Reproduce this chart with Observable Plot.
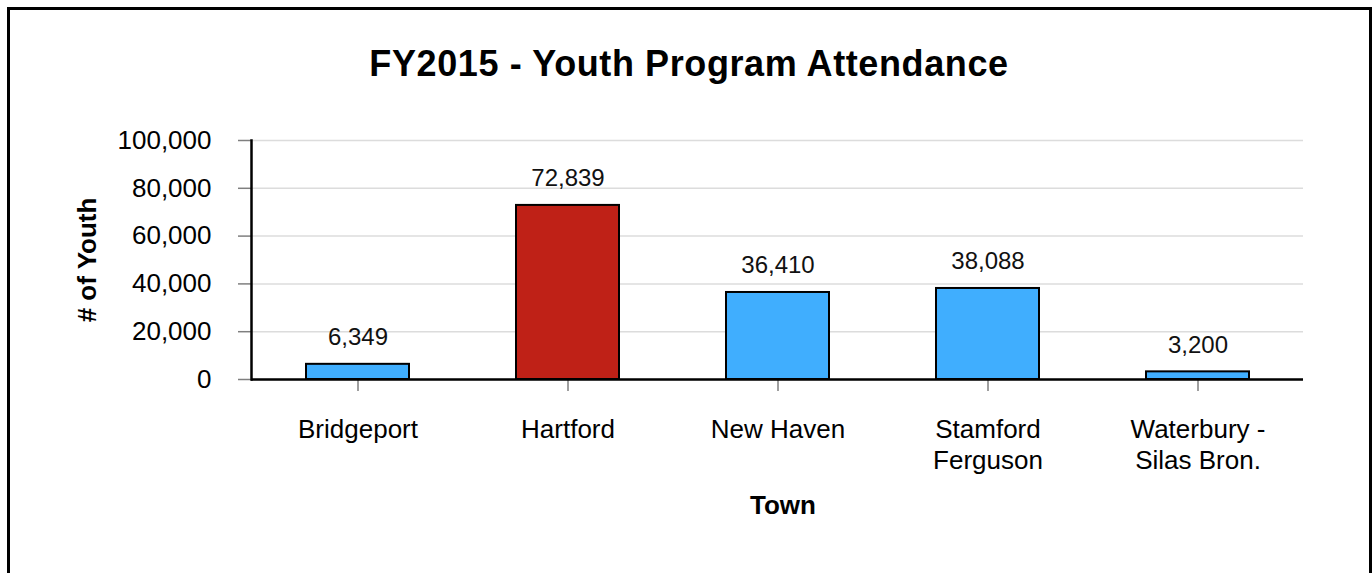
<!DOCTYPE html>
<html>
<head>
<meta charset="utf-8">
<script src="https://cdn.jsdelivr.net/npm/d3@7"></script>
<script src="https://cdn.jsdelivr.net/npm/@observablehq/plot@0.6"></script>
<style>
  html, body { margin: 0; padding: 0; background: #fff; }
  #wrap { position: relative; width: 1372px; height: 573px; overflow: hidden; font-family: "Liberation Sans", Arial, sans-serif; }
  #border { position: absolute; left: 7px; top: 7px; width: 1359px; height: 700px; border: 3px solid #000; pointer-events: none; }
  #title { position: absolute; left: 0; width: 1378px; top: 46px; height: 36px; line-height: 36px; text-align: center; font-size: 36px; font-weight: bold; letter-spacing: 0.6px; color: #000; }
  .alabel { position: absolute; font-size: 26px; font-weight: bold; color: #000; white-space: nowrap; line-height: 1; transform: translate(-50%, -50%); }
  #ylabel { left: 87px; top: 260px; transform: translate(-50%, -50%) rotate(-90deg); }
  #xlabel { left: 783px; top: 505px; }
  #chart { position: absolute; left: 0; top: 0; }
</style>
</head>
<body>
<div id="wrap">
  <div id="chart"></div>
  <div id="border"></div>
  <div id="title">FY2015 - Youth Program Attendance</div>
  <div id="ylabel" class="alabel"># of Youth</div>
  <div id="xlabel" class="alabel">Town</div>
</div>
<script>
const towns = ["Bridgeport", "Hartford", "New Haven", "Stamford\nFerguson", "Waterbury -\nSilas Bron."];
const youth = [6349, 72839, 36410, 38088, 3200];
const yTicks = [0, 20000, 40000, 60000, 80000, 100000];
const highlightTown = "Hartford";

const data = towns.map((t, i) => ({town: t, value: youth[i]}));
const fmt = d3.format(",");

const chart = Plot.plot({
  width: 1372,
  height: 573,
  marginTop: 140,
  marginBottom: 194,
  marginLeft: 251,
  marginRight: 69,
  style: {background: "transparent", fontFamily: "Liberation Sans, Arial, sans-serif", color: "#000"},
  x: {domain: towns, paddingInner: 0.51, paddingOuter: 0.255, label: null},
  y: {domain: [0, 100000], label: null},
  marks: [
    Plot.gridY(yTicks, {stroke: "#dcdcdc", strokeOpacity: 1, strokeWidth: 1.5}),
    Plot.axisY(yTicks, {tickSize: 13, tickPadding: 27, fontSize: 26, stroke: "#7f7f7f", strokeWidth: 1.5, tickFormat: fmt, label: null, fill: "#000"}),
    Plot.axisX({tickSize: 12, tickPadding: 24, fontSize: 26, stroke: "#7f7f7f", strokeWidth: 1.5, lineHeight: 1.2, label: null, fill: "#000"}),
    Plot.barY(data, {x: "town", y: "value", fill: d => d.town === highlightTown ? "#bf2117" : "#40aefe", stroke: "#000", strokeWidth: 2}),
    Plot.text(data, {x: "town", y: "value", text: d => fmt(d.value), dy: -27, lineAnchor: "middle", fontSize: 24, fill: "#111"}),
    Plot.ruleY([0], {stroke: "#000", strokeWidth: 2.5}),
    Plot.frame({anchor: "left", stroke: "#000", strokeWidth: 2.5})
  ]
});
document.getElementById("chart").appendChild(chart);
</script>
</body>
</html>
